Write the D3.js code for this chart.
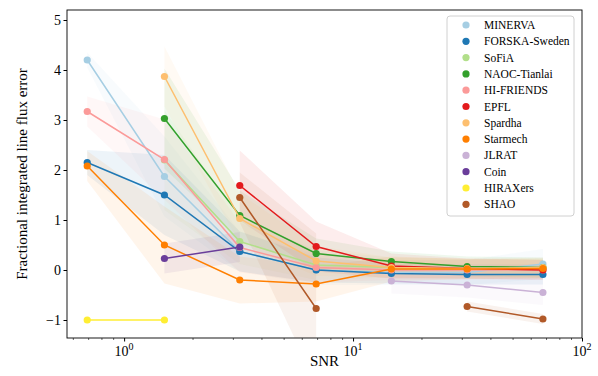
<!DOCTYPE html>
<html><head><meta charset="utf-8">
<script src="https://cdn.jsdelivr.net/npm/d3@7"></script>
<style>body{margin:0;background:#fff}svg{display:block}</style>
</head><body>
<svg id="c" width="598" height="376"></svg>
<script>
const snr = [0.69, 1.5, 3.2, 6.9, 14.7, 31.5, 67.5];
const teams = ["MINERVA","FORSKA-Sweden","SoFiA","NAOC-Tianlai","HI-FRIENDS","EPFL","Spardha","Starmech","JLRAT","Coin","HIRAXers","SHAO"];
const colors = ["#a6cee3","#1f78b4","#b2df8a","#33a02c","#fb9a99","#e31a1c","#fdbf6f","#ff7f00","#cab2d6","#6a3d9a","#ffee33","#b15928"];
const N = null;
const vMINERVA  = [4.2, 1.87, 0.37, 0.0, -0.05, -0.05, 0.12];
const vFORSKA   = [2.15, 1.5, 0.37, 0.0, -0.07, -0.09, -0.09];
const vSoFiA    = [N, 2.2, 0.57, 0.1, 0.05, 0.02, 0.03];
const vNAOC     = [N, 3.03, 1.09, 0.33, 0.17, 0.07, 0.05];
const vHIFR     = [3.17, 2.21, 0.45, 0.05, 0.0, 0.0, 0.0];
const vEPFL     = [N, N, 1.69, 0.47, 0.08, 0.03, 0.0];
const vSpardha  = [N, 3.87, 1.03, 0.18, 0.05, 0.03, 0.05];
const vStarmech = [2.08, 0.5, -0.2, -0.28, 0.02, 0.02, 0.03];
const vJLRAT    = [N, N, N, N, -0.22, -0.3, -0.45];
const vCoin     = [N, 0.23, 0.46, N, N, N, N];
const vHIRAX    = [-1, -1, N, N, N, N, N];
const vSHAO     = [N, N, 1.45, -0.77, N, -0.73, -0.98];
const values = [vMINERVA,vFORSKA,vSoFiA,vNAOC,vHIFR,vEPFL,vSpardha,vStarmech,vJLRAT,vCoin,vHIRAX,vSHAO];
const errs = [
  [0.15, 0.8, 0.4, 0.3, 0.25, 0.25, 0.3],
  [0.25, 0.8, 0.4, 0.25, 0.2, 0.2, 0.2],
  [N, 1.0, 0.45, 0.3, 0.2, 0.2, 0.2],
  [N, 1.0, 0.5, 0.3, 0.2, 0.2, 0.2],
  [0.3, 0.8, 0.5, 0.3, 0.2, 0.2, 0.2],
  [N, N, 0.7, 0.5, 0.25, 0.2, 0.2],
  [N, 0.6, 0.5, 0.3, 0.2, 0.2, 0.2],
  [0.3, 0.77, 0.47, 0.35, 0.25, 0.2, 0.2],
  [N, N, N, N, 0.25, 0.25, 0.25],
  [N, 0.3, 0.3, N, N, N, N],
  [0, 0, N, N, N, N, N],
  [N, N, 0.5, 1.5, N, 0.1, 0.1]
];
const yTicks = [-1,0,1,2,3,4,5];
const xTicks = [1,10,100];
const xTickExp = ["0","1","2"];

const svg = d3.select("#c");
const L=67, R=582, T=10, B=338;
const x = d3.scaleLog().domain([0.563, 100]).range([L, R]);
const y = d3.scaleLinear().domain([-1.36, 5.2]).range([B, T]);
const font = "'Liberation Serif', 'DejaVu Serif', serif";

svg.append("defs").append("clipPath").attr("id","clip")
  .append("rect").attr("x",L).attr("y",T).attr("width",R-L).attr("height",B-T);
const g = svg.append("g").attr("clip-path","url(#clip)");

// bands
values.forEach((vals,i)=>{
  const pts = vals.map((v,j)=>({x:snr[j], v, e:errs[i][j]}));
  const area = d3.area().defined(d=>d.v!==null)
    .x(d=>x(d.x)).y0(d=>y(d.v-d.e)).y1(d=>y(d.v+d.e));
  g.append("path").attr("d",area(pts)).attr("fill",colors[i]).attr("fill-opacity",0.08).attr("stroke","none");
});
// lines + markers
values.forEach((vals,i)=>{
  const pts = vals.map((v,j)=>({x:snr[j], v}));
  const line = d3.line().defined(d=>d.v!==null).x(d=>x(d.x)).y(d=>y(d.v));
  g.append("path").attr("d",line(pts)).attr("fill","none").attr("stroke",colors[i]).attr("stroke-width",1.5);
  g.selectAll(null).data(pts.filter(d=>d.v!==null)).enter().append("circle")
    .attr("cx",d=>x(d.x)).attr("cy",d=>y(d.v)).attr("r",3.6).attr("fill",colors[i]);
});

// frame
svg.append("rect").attr("x",L).attr("y",T).attr("width",R-L).attr("height",B-T)
  .attr("fill","none").attr("stroke","#000").attr("stroke-width",0.9);

// y axis
const yAxis = d3.axisLeft(y).tickValues(yTicks).tickSize(3.5).tickFormat(d=>d<0?"\u2212"+Math.abs(d):d);
const ya = svg.append("g").attr("transform",`translate(${L},0)`).call(yAxis);
ya.select(".domain").remove();
ya.selectAll("text").attr("font-family",font).attr("font-size",14).attr("fill","#000").attr("x",-6);
ya.selectAll("line").attr("stroke","#000");

// x axis with minor ticks
const minor = [];
for (let dec=0.1; dec<100; dec*=10) for (let k=2;k<=9;k++){const v=+(dec*k).toPrecision(3); if(v>=0.563&&v<=100) minor.push(v);}
const xm = svg.append("g").attr("transform",`translate(0,${B})`);
xm.selectAll("line.mi").data(minor).enter().append("line")
  .attr("x1",d=>x(d)).attr("x2",d=>x(d)).attr("y1",0).attr("y2",2).attr("stroke","#000").attr("stroke-width",0.6);
const xAxis = d3.axisBottom(x).tickValues(xTicks).tickSize(3.5).tickFormat("");
const xa = svg.append("g").attr("transform",`translate(0,${B})`).call(xAxis);
xa.select(".domain").remove();
xa.selectAll("line").attr("stroke","#000");
xTicks.forEach((t,i)=>{
  const tx = svg.append("text").attr("x",x(t)).attr("y",B+18).attr("text-anchor","middle")
    .attr("font-family",font).attr("font-size",14).attr("fill","#000");
  tx.append("tspan").text("10");
  tx.append("tspan").attr("dy",-6).attr("font-size",10).text(xTickExp[i]);
});

// labels
svg.append("text").attr("x",(L+R)/2).attr("y",366).attr("text-anchor","middle")
  .attr("font-family",font).attr("font-size",15).attr("fill","#000").text("SNR");
svg.append("text").attr("transform",`translate(27,${(T+B)/2}) rotate(-90)`).attr("text-anchor","middle")
  .attr("font-family",font).attr("font-size",15).attr("fill","#000").text("Fractional integrated line flux error");

// legend
const lg = svg.append("g");
lg.append("rect").attr("x",447).attr("y",16).attr("width",127).attr("height",200).attr("rx",3)
  .attr("fill","#fff").attr("fill-opacity",0.8).attr("stroke","#d0d0d0").attr("stroke-width",1);
teams.forEach((t,i)=>{
  const yy = 25 + i*16.3;
  lg.append("circle").attr("cx",466).attr("cy",yy).attr("r",3.6).attr("fill",colors[i]);
  lg.append("text").attr("x",484).attr("y",yy+4).attr("font-family",font).attr("font-size",11.5)
    .attr("fill","#000").text(t);
});
</script>
</body></html>
